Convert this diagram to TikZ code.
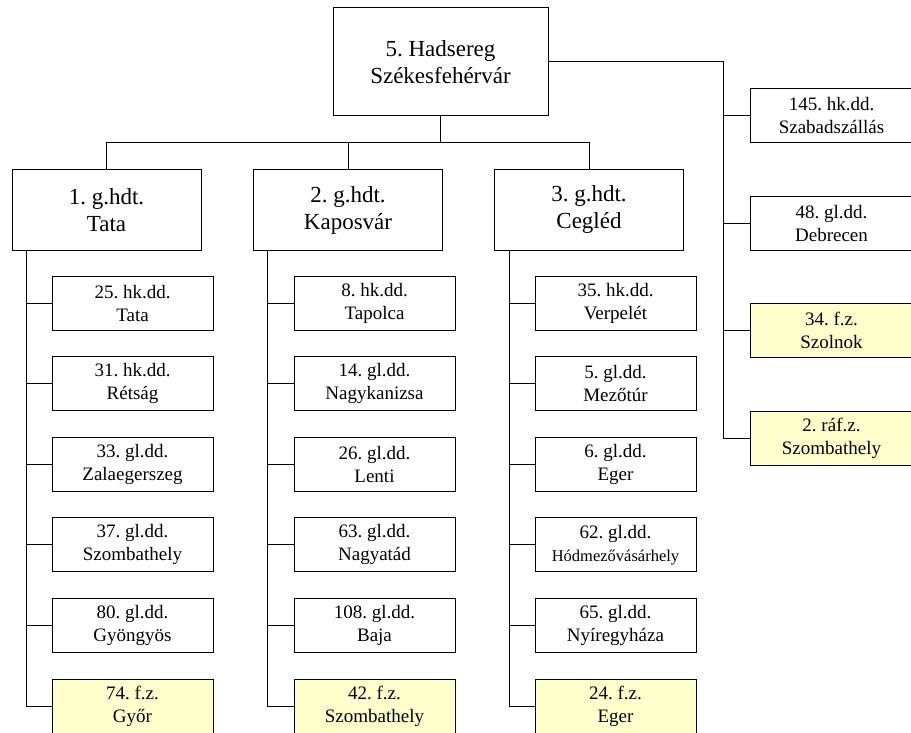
\documentclass[tikz,border=0pt]{standalone}
\usepackage{fontspec}
\setmainfont{Liberation Serif}
\frenchspacing
\definecolor{fzyellow}{RGB}{255,255,204}
\tikzset{
  hq/.style={draw, line width=1pt, minimum width=215pt, minimum height=108pt, inner sep=0pt, align=center, font=\fontsize{23}{27}\selectfont},
  corps/.style={draw, line width=1pt, minimum width=189pt, minimum height=80pt, inner sep=0pt, align=center, font=\fontsize{23}{27}\selectfont},
  unit/.style={draw, fill=white, line width=1pt, minimum width=161pt, minimum height=54pt, inner sep=0pt, align=center, font=\fontsize{19}{23}\selectfont},
  fz/.style={unit, fill=fzyellow},
  link/.style={line width=1pt}
}
\begin{document}
\begin{tikzpicture}[x=1pt, y=-1pt]
\clip (0,0) rectangle (911,733);
\def\colA{132.5}
\def\colB{374.5}
\def\colC{615.5}
\def\rowA{303}
\def\rowB{383.6}
\def\rowC{464.2}
\def\rowD{544.8}
\def\rowE{625.4}
\def\rowF{706.5}

% army and corps
\node[hq] (top) at (440.5, 62) {5. Hadsereg\\Székesfehérvár};
\node[corps] (g1) at (106.5, 210) {1. g.hdt.\\Tata};
\node[corps] (g2) at (348, 210) {2. g.hdt.\\Kaposvár};
\node[corps] (g3) at (589, 210) {3. g.hdt.\\Cegléd};

\draw[link] (top.south) -- ++(0,26) -| (g1.north);
\draw[link] (top.south) -- ++(0,26) -| (g2.north);
\draw[link] (top.south) -- ++(0,26) -| (g3.north);

% 1. g.hdt.
\node[unit] (s1a) at (\colA, \rowA) {25. hk.dd.\\Tata};
\node[unit] (s1b) at (\colA, \rowB) {31. hk.dd.\\Rétság};
\node[unit] (s1c) at (\colA, \rowC) {33. gl.dd.\\Zalaegerszeg};
\node[unit] (s1d) at (\colA, \rowD) {37. gl.dd.\\Szombathely};
\node[unit] (s1e) at (\colA, \rowE) {80. gl.dd.\\Gyöngyös};
\node[fz] (s1f) at (\colA, \rowF) {74. f.z.\\Győr};

% 2. g.hdt.
\node[unit] (s2a) at (\colB, \rowA) {8. hk.dd.\\Tapolca};
\node[unit] (s2b) at (\colB, \rowB) {14. gl.dd.\\Nagykanizsa};
\node[unit] (s2c) at (\colB, \rowC) {26. gl.dd.\\Lenti};
\node[unit] (s2d) at (\colB, \rowD) {63. gl.dd.\\Nagyatád};
\node[unit] (s2e) at (\colB, \rowE) {108. gl.dd.\\Baja};
\node[fz] (s2f) at (\colB, \rowF) {42. f.z.\\Szombathely};

% 3. g.hdt.
\node[unit] (s3a) at (\colC, \rowA) {35. hk.dd.\\Verpelét};
\node[unit] (s3b) at (\colC, \rowB) {5. gl.dd.\\Mezőtúr};
\node[unit] (s3c) at (\colC, \rowC) {6. gl.dd.\\Eger};
\node[unit] (s3d) at (\colC, \rowD) {62. gl.dd.\\{\fontsize{16.5}{23}\selectfont Hódmezővásárhely}};
\node[unit] (s3e) at (\colC, \rowE) {65. gl.dd.\\Nyíregyháza};
\node[fz] (s3f) at (\colC, \rowF) {24. f.z.\\Eger};

\coordinate (t1) at (26, 250);
\coordinate (t2) at (267, 250);
\coordinate (t3) at (509, 250);
\foreach \g in {1,2,3}
  \foreach \s in {a,b,c,d,e,f}
    \draw[link] (t\g) |- (s\g\s.west);

% army units
\node[unit, minimum width=163pt] (r1) at (831.5, 116) {145. hk.dd.\\Szabadszállás};
\node[unit, minimum width=163pt] (r2) at (831.5, 223.3) {48. gl.dd.\\Debrecen};
\node[fz, minimum width=163pt] (r3) at (831.5, 330.7) {34. f.z.\\Szolnok};
\node[fz, minimum width=163pt] (r4) at (831.5, 438) {2. ráf.z.\\Szombathely};

\coordinate (rt) at (723, 62);
\draw[link] (top.east) -- (rt) |- (r4.west);
\draw[link] (rt) |- (r1.west);
\draw[link] (rt) |- (r2.west);
\draw[link] (rt) |- (r3.west);
\end{tikzpicture}
\end{document}
